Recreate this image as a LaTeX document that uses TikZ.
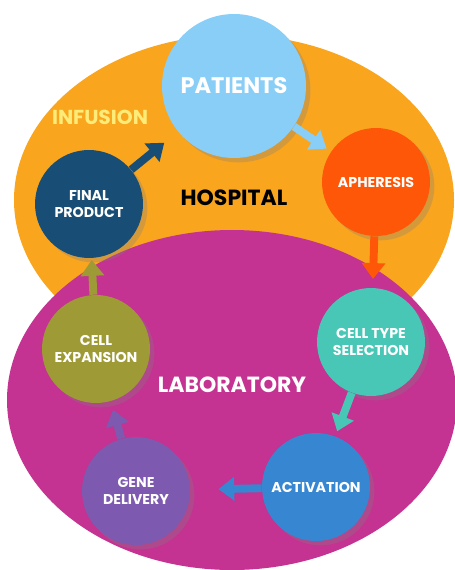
\documentclass[tikz,border=0pt]{standalone}
\usepackage{fontspec}
\setmainfont{Poppins}
\usepackage{xcolor}
\usepackage{tikz}
\usetikzlibrary{arrows.meta,shadows}

\definecolor{hospitalorange}{RGB}{249,165,30}
\definecolor{labmagenta}{RGB}{196,50,146}
\definecolor{patientblue}{RGB}{137,206,246}
\definecolor{apheresisred}{RGB}{255,87,8}
\definecolor{selectionteal}{RGB}{72,199,182}
\definecolor{activationblue}{RGB}{55,134,210}
\definecolor{genepurple}{RGB}{125,89,176}
\definecolor{expansionolive}{RGB}{158,154,54}
\definecolor{productblue}{RGB}{24,78,118}
\definecolor{infusionyellow}{RGB}{255,236,120}

\begin{document}
\begin{tikzpicture}[x=0.02cm, y=-0.02cm,
  stage/.style={circle, inner sep=0pt, minimum size=2.16cm, text=white, align=center,
    font=\bfseries\fontsize{8.1}{9.3}\selectfont,
    drop shadow={shadow xshift=2.5pt, shadow yshift=-2.5pt, opacity=0.3}},
  flow/.style={-{Triangle[length=9pt,width=13pt]}, line width=4.5pt},
  area/.style={font=\bfseries\fontsize{12.5}{14}\selectfont}]
  \useasboundingbox (0,0) rectangle (455,570);

  % Draw the two settings
  \fill[hospitalorange] (234,200) ellipse [x radius=220, y radius=165];
  \fill[labmagenta] (232,400) ellipse [x radius=225, y radius=170];

  % Draw the stages
  \node[stage, fill=patientblue, minimum size=2.88cm, font=\bfseries\fontsize{12.8}{14}\selectfont] (patients) at (234,86) {PATIENTS};
  \node[stage, fill=apheresisred] (apheresis) at (376,182) {APHERESIS};
  \node[stage, fill=selectionteal] (selection) at (371,342) {CELL TYPE\\SELECTION};
  \node[stage, fill=activationblue] (activation) at (316,487) {ACTIVATION};
  \node[stage, fill=genepurple] (gene) at (136,491) {GENE\\DELIVERY};
  \node[stage, fill=expansionolive] (expansion) at (96,349) {CELL\\EXPANSION};
  \node[stage, fill=productblue] (product) at (89,204) {FINAL\\PRODUCT};

  % Draw the labels
  \node[area, text=infusionyellow, font=\bfseries\fontsize{11.5}{13}\selectfont] (infusion) at (100,117) {INFUSION};
  \node[area, text=black] (hospital) at (234,198) {HOSPITAL};
  \node[area, text=white] (laboratory) at (232,385) {LABORATORY};

  % Draw the steps
  \draw[flow, patientblue, shorten >=3pt] (patients) -- (apheresis);
  \draw[flow, apheresisred, shorten >=5pt] (apheresis) -- (selection);
  \draw[flow, selectionteal, shorten >=3pt] (selection) -- (activation);
  \draw[flow, activationblue, shorten >=16pt] (activation) -- (gene);
  \draw[flow, genepurple, shorten >=5pt] (gene) -- (expansion);
  \draw[flow, expansionolive, shorten >=1pt] (expansion) -- (product);
  \draw[flow, productblue, shorten >=10pt] (product) -- (patients);
\end{tikzpicture}
\end{document}
